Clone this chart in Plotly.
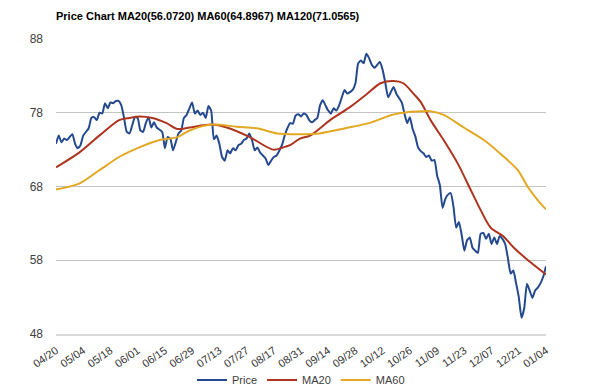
import plotly.graph_objects as go

tick_days = [0, 10, 20, 30, 40, 50, 60, 70, 80, 90, 100, 110, 120, 130, 140, 150, 160, 170, 180]
tick_labels = ["04/20", "05/04", "05/18", "06/01", "06/15", "06/29", "07/13", "07/27", "08/17",
               "08/31", "09/14", "09/28", "10/12", "10/26", "11/09", "11/23", "12/07", "12/21", "01/04"]

price_day = [0, 1, 2, 3, 4, 6, 7, 8, 9, 10, 12, 13, 14, 15, 16, 17, 18, 19, 20, 21, 22, 23, 24, 25, 26, 27,
             28, 29, 30, 31, 32, 33, 34, 35, 36, 37, 39, 40, 41, 42, 43, 45, 46, 47, 48, 49, 50, 51, 52, 53,
             54, 55, 56, 57, 58, 59, 60, 61, 62, 63, 64, 65, 66, 67, 68, 69, 70, 71, 72, 73, 74, 75, 76, 77,
             78, 79, 80, 81, 83, 84, 85, 86, 87, 88, 89, 90, 91, 92, 93, 94, 95, 96, 97, 98, 99, 100, 101,
             102, 103, 104, 105, 106, 107, 108, 109, 110, 111, 112, 113, 114, 115, 116, 117, 118, 119, 120,
             121, 122, 123, 124, 125, 126, 127, 128, 129, 130, 131, 132, 133, 134, 135, 136, 137, 138, 139,
             140, 141, 142, 143, 144, 145, 146, 147, 148, 149, 150, 151, 152, 153, 154, 155, 156, 157, 158,
             159, 160, 161, 162, 163, 164, 165, 166, 167, 168, 169, 170, 171, 172, 173, 174, 175, 176, 177,
             178, 179, 180]
price = [73.8, 74.9, 74.0, 74.5, 74.3, 75.1, 73.8, 73.2, 73.6, 74.9, 75.9, 77.3, 77.4, 77.0, 78.0, 77.9,
         79.3, 78.6, 79.4, 79.3, 79.6, 79.6, 79.0, 77.3, 75.4, 75.2, 76.3, 77.4, 77.3, 75.6, 75.4, 76.6,
         77.4, 76.0, 76.7, 76.0, 75.4, 73.2, 74.7, 74.5, 72.9, 75.2, 75.6, 77.3, 77.7, 78.6, 79.4, 77.9,
         78.3, 77.7, 78.0, 77.3, 78.9, 78.3, 74.4, 74.9, 73.8, 72.0, 71.5, 72.9, 72.5, 73.2, 72.9, 73.6,
         73.8, 74.3, 74.5, 75.2, 74.3, 72.9, 73.3, 72.6, 72.2, 71.8, 70.9, 71.5, 72.0, 72.2, 73.6, 74.9,
         75.9, 76.6, 76.5, 77.6, 77.8, 77.5, 77.9, 77.7, 77.0, 76.7, 77.0, 77.3, 79.0, 79.7, 79.0, 78.3,
         77.9, 78.6, 78.3, 79.0, 80.1, 81.1, 80.6, 80.8, 81.1, 82.0, 84.7, 85.1, 84.7, 86.0, 85.4, 84.5,
         84.1, 84.5, 84.9, 83.8, 82.0, 80.1, 80.8, 81.5, 80.6, 80.0, 79.4, 77.9, 76.6, 77.4, 75.8, 74.8,
         73.3, 72.8, 72.5, 72.0, 72.2, 71.5, 71.6, 69.5, 68.2, 65.1, 66.3, 66.9, 67.1, 65.3, 62.4, 63.2,
         61.5, 59.3, 60.7, 61.1, 59.7, 59.3, 59.0, 61.6, 61.7, 60.9, 61.6, 60.2, 61.1, 60.2, 61.3, 60.9,
         60.2, 58.3, 56.2, 56.6, 54.9, 53.0, 50.2, 51.5, 54.8, 53.9, 52.9, 53.9, 54.3, 54.9, 55.8, 57.2]

ma20_day = [0, 8.5, 15.9, 23.2, 26.9, 30.6, 35.4, 40.6, 44.6, 49.1, 57.2, 62.7, 71.2, 79.7, 83.4, 86,
            89.6, 93.3, 100.7, 108.1, 114.4, 119.2, 124, 127.6, 131.3, 133.9, 137.6, 142.4, 147.6, 152.4,
            156, 159.7, 164.2, 168.2, 173.4, 180]
ma20 = [70.6, 72.6, 74.9, 77.0, 77.3, 77.5, 77.3, 76.6, 75.8, 76.0, 76.4, 76.0, 74.7, 73.0, 73.3, 73.6,
        74.5, 74.9, 77.0, 78.8, 80.6, 82.0, 82.3, 82.0, 80.6, 79.5, 77.0, 74.3, 71.1, 67.5, 64.8, 62.4,
        61.3, 59.7, 58.0, 56.07]

ma60_day = [0, 8.5, 15.9, 23.2, 30.6, 38, 44.6, 49.1, 57.2, 66.4, 73.8, 81.2, 89.6, 96.7, 106.3, 115.9,
            123.3, 129.5, 134.3, 137.6, 142.4, 149.8, 157.2, 164.6, 169.7, 173.4, 177.1, 180]
ma60 = [67.6, 68.4, 70.2, 72.0, 73.3, 74.3, 74.7, 75.6, 76.4, 76.1, 75.9, 75.2, 75.1, 75.2, 75.9, 76.7,
        77.7, 78.1, 78.2, 78.2, 77.7, 76.0, 74.3, 72.0, 70.2, 67.9, 66.1, 64.9]

title_text = "Price Chart MA20(56.0720) MA60(64.8967) MA120(71.0565)"
y_ticks = [48, 58, 68, 78, 88]

FONT = "Arial, 'Liberation Sans', sans-serif"

fig = go.Figure()
fig.add_trace(go.Scatter(x=price_day, y=price, name="Price", mode="lines",
                         line=dict(color="#23498f", width=2, shape="spline", smoothing=0.5)))
fig.add_trace(go.Scatter(x=ma20_day, y=ma20, name="MA20", mode="lines",
                         line=dict(color="#ad341e", width=2, shape="spline", smoothing=0.8)))
fig.add_trace(go.Scatter(x=ma60_day, y=ma60, name="MA60", mode="lines",
                         line=dict(color="#e3a823", width=2, shape="spline", smoothing=0.8)))

fig.update_layout(
    width=600, height=391,
    margin=dict(l=56, r=54, t=39, b=57, autoexpand=False),
    paper_bgcolor="white", plot_bgcolor="white",
    font=dict(family=FONT, size=11, color="#404040"),
    title=dict(text="<b>" + title_text + "</b>", xref="container", yref="container",
               x=56 / 600, xanchor="left", y=1 - 16 / 391, yanchor="middle",
               pad=dict(l=0, r=0, t=0, b=0), automargin=False,
               font=dict(family=FONT, size=11, color="#000000")),
    showlegend=True,
    hovermode=False,
    legend=dict(orientation="h", xref="paper", yref="paper", x=0.5, xanchor="center",
                y=-46 / 295, yanchor="middle", font=dict(family=FONT, size=11, color="#404040"),
                bgcolor="rgba(0,0,0,0)", itemwidth=30, tracegroupgap=0),
)
fig.update_xaxes(range=[0, 180], tickmode="array", tickvals=tick_days, ticktext=tick_labels,
                 tickangle=-35, showgrid=False, zeroline=False, showline=True, automargin=False,
                 linecolor="#d9d9d9", linewidth=2, ticks="", ticklabelstandoff=4,
                 tickfont=dict(family=FONT, size=11, color="#333333"))
fig.update_yaxes(range=[48, 88], tickmode="array", tickvals=y_ticks, showgrid=True, automargin=False,
                 gridcolor="#c4c4c4", gridwidth=1, zeroline=False, showline=False, ticks="",
                 ticklabelstandoff=12, tickfont=dict(family=FONT, size=12, color="#404040"))

fig.write_html("out.html", config={"displayModeBar": False},
               post_script="document.body.style.margin='0px';")
